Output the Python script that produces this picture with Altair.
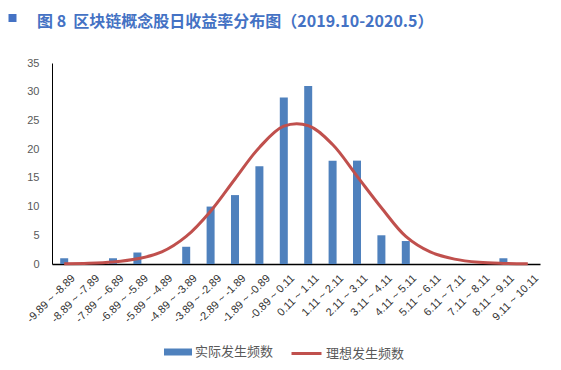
import altair as alt
import pandas as pd

categories = ["-9.89 ~ -8.89", "-8.89 ~ -7.89", "-7.89 ~ -6.89", "-6.89 ~ -5.89",
              "-5.89 ~ -4.89", "-4.89 ~ -3.89", "-3.89 ~ -2.89", "-2.89 ~ -1.89",
              "-1.89 ~ -0.89", "-0.89 ~ 0.11", "0.11 ~ 1.11", "1.11 ~ 2.11",
              "2.11 ~ 3.11", "3.11 ~ 4.11", "4.11 ~ 5.11", "5.11 ~ 6.11",
              "6.11 ~ 7.11", "7.11 ~ 8.11", "8.11 ~ 9.11", "9.11 ~ 10.11"]
actual = [1, 0, 1, 2, 0, 3, 10, 12, 17, 29, 31, 18, 18, 5, 4, 0, 0, 0, 1, 0]
ideal = [0.05, 0.12, 0.35, 0.9, 2.1, 4.8, 9.2, 14.8, 20.3, 24.0,
         24.1, 20.8, 15.3, 9.8, 4.8, 2.1, 0.85, 0.3, 0.1, 0.03]
y_ticks = [0, 5, 10, 15, 20, 25, 30, 35]
series_names = ["实际发生频数", "理想发生频数"]
title_text = "图 8\u00a0\u00a0区块链概念股日收益率分布图（2019.10-2020.5）"

df = pd.DataFrame({"cat": categories, "actual": actual, "ideal": ideal,
                   "s1": series_names[0], "s2": series_names[1]})

x_axis = alt.Axis(title=None, labelAngle=-45, ticks=False,
                  domainColor="black", domainWidth=1.5,
                  labelFont="Liberation Sans", labelFontSize=11,
                  labelColor="#333333", labelPadding=8, labelOffset=5)
y_axis = alt.Axis(title=None, values=y_ticks, tickCount=8, ticks=False,
                  grid=False, domainColor="black", labelFont="Liberation Sans",
                  labelFontSize=11, labelColor="#595959", labelPadding=13,
                  labelOverlap=False)
x_scale = alt.Scale(paddingInner=0, paddingOuter=0)
y_scale = alt.Scale(domain=[0, 35], nice=False)

bars = alt.Chart(df).mark_bar(size=8).encode(
    x=alt.X("cat:N", sort=categories, scale=x_scale, axis=x_axis),
    y=alt.Y("actual:Q", scale=y_scale, axis=y_axis),
    fill=alt.Fill("s1:N", scale=alt.Scale(domain=[series_names[0]], range=["#4F81BD"]),
                  legend=alt.Legend(title=None, orient="none", legendX=112, legendY=275,
                                    symbolType="M-1,-0.25H1V0.25H-1Z",
                                    symbolSize=784, symbolStrokeWidth=0,
                                    labelFont="Noto Sans CJK SC", labelFontSize=13,
                                    labelColor="#595959", labelOffset=3)),
)

line = alt.Chart(df).mark_line(strokeWidth=3, interpolate="catmull-rom").encode(
    x=alt.X("cat:N", sort=categories, scale=x_scale, axis=x_axis),
    y=alt.Y("ideal:Q", scale=y_scale, axis=y_axis),
    stroke=alt.Stroke("s2:N", scale=alt.Scale(domain=[series_names[1]], range=["#C0504D"]),
                      legend=alt.Legend(title=None, orient="none", legendX=238, legendY=274,
                                        symbolType="stroke", symbolSize=900,
                                        symbolStrokeWidth=3,
                                        labelFont="Noto Sans CJK SC", labelFontSize=13,
                                        labelColor="#595959", labelOffset=3)),
)

tdf = pd.DataFrame({"t": [title_text]})
title = alt.Chart(tdf).mark_text(align="left", baseline="alphabetic",
                                 font="Noto Sans CJK SC", fontSize=16, fontWeight="bold",
                                 color="#4472C4").encode(
    text="t:N", x=alt.value(-15), y=alt.value(-36))
square = alt.Chart(tdf).mark_square(size=64, filled=True, color="#4472C4", opacity=1).encode(
    x=alt.value(-39.5), y=alt.value(-45))

chart = alt.layer(bars, line, title, square).resolve_scale(
    fill="independent", stroke="independent"
).properties(
    width=488, height=201,
    autosize=alt.AutoSizeParams(type="none"),
    padding={"left": 44, "top": 55, "right": 10, "bottom": 98},
).configure_view(stroke=None)

chart.save("out.html", embed_options={"renderer": "svg", "actions": False})
